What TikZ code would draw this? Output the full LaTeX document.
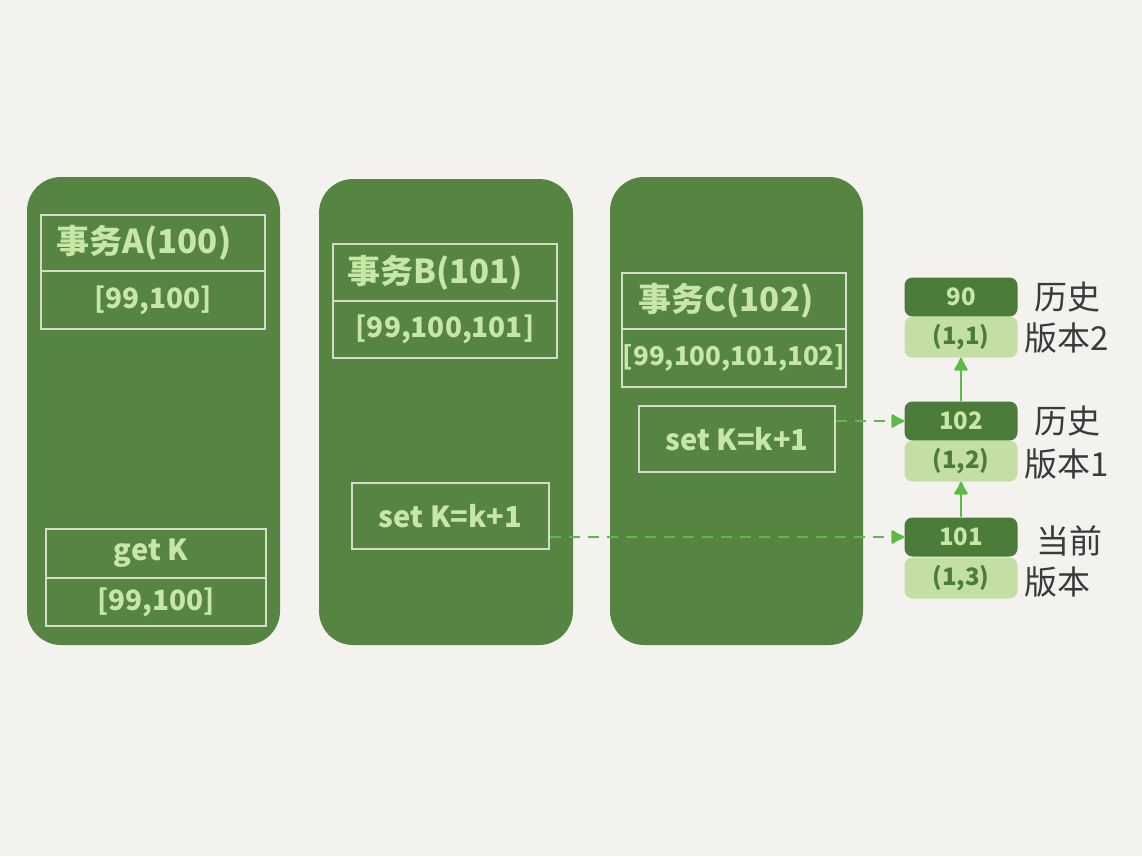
\documentclass[tikz,border=0pt]{standalone}
\usepackage{fontspec}
\newfontfamily\cjk{Noto Sans CJK SC}
\setmainfont{Noto Sans CJK SC}
\usetikzlibrary{arrows.meta}
\definecolor{bg}{HTML}{F3F2EF}
\definecolor{col}{HTML}{558541}
\definecolor{txt}{HTML}{C8E6A6}
\definecolor{edge}{HTML}{D3DCCB}
\definecolor{dk}{HTML}{4B7C39}
\definecolor{lt}{HTML}{C3DFA3}
\definecolor{arr}{HTML}{5CBB47}
\definecolor{lab}{HTML}{3A3A3A}
\tikzset{
  column/.style={fill=col, rounded corners=34pt, draw=none, inner sep=0pt},
  cell/.style={draw=edge, line width=2.5pt, fill=col, text=txt, inner sep=0pt, font=\cjk\bfseries\fontsize{33}{36}\selectfont},
  viewcell/.style={cell, font=\cjk\bfseries\fontsize{28}{32}\selectfont},
  opcell/.style={cell, font=\cjk\bfseries\fontsize{29}{32}\selectfont},
  darkv/.style={fill=dk, rounded corners=8pt, text=txt, inner sep=0pt, minimum width=113pt, minimum height=39pt, font=\cjk\bfseries\fontsize{24}{26}\selectfont},
  lightv/.style={fill=lt, rounded corners=8pt, text=dk, inner sep=0pt, minimum width=113pt, minimum height=41pt, font=\cjk\bfseries\fontsize{24}{26}\selectfont},
  vlabel/.style={text=lab, font=\cjk\fontsize{33}{35}\selectfont, inner sep=0pt},
  link/.style={draw=arr, line width=2.2pt, -{Latex[round,length=15pt,width=16pt]}},
  dlink/.style={draw=arr, line width=2.2pt, dash pattern=on 11pt off 8pt, -{Latex[round,length=15pt,width=16pt]}}
}
\begin{document}
\begin{tikzpicture}[x=1pt,y=-1pt]
\useasboundingbox[fill=bg] (0,0) rectangle (1142,856);
% columns
\node[column, minimum width=253pt, minimum height=468pt] (colA) at (153.5,411) {};
\node[column, minimum width=254pt, minimum height=466pt] (colB) at (446,412) {};
\node[column, minimum width=253pt, minimum height=468pt] (colC) at (736.5,411) {};
% A
\node[cell, minimum width=224pt, minimum height=56pt] (ahead) at (153,243) {事务A(100)\kern18pt};
\node[viewcell, minimum width=224pt, minimum height=58pt] (aview) at (153,300) {[99,100]};
\node[opcell, minimum width=220pt, minimum height=49pt] (aget) at (156,553.5) {get K\kern10pt};
\node[viewcell, minimum width=220pt, minimum height=48pt] (aview2) at (156,602) {[99,100]};
% B
\node[cell, minimum width=224pt, minimum height=57pt] (bhead) at (445,272.5) {事务B(101)\kern20pt};
\node[viewcell, minimum width=224pt, minimum height=57pt] (bview) at (445,329.5) {[99,100,101]};
\node[opcell, minimum width=197pt, minimum height=66pt] (bset) at (450.5,516) {set K=k+1};
% C
\node[cell, minimum width=224pt, minimum height=56pt] (chead) at (734,301) {事务C(102)\kern16pt};
\node[viewcell, minimum width=224pt, minimum height=58pt, font=\cjk\bfseries\fontsize{26}{30}\selectfont] (cview) at (734,358) {[99,100,101,102]};
\node[opcell, minimum width=196pt, minimum height=66pt] (cset) at (737,439) {set K=k+1};
% version chain
\node[darkv] (d90) at (961,297) {90};
\node[lightv] (l11) at (961,337) {(1,1)};
\node[darkv] (d102) at (961,421) {102};
\node[lightv] (l12) at (961,461) {(1,2)};
\node[darkv] (d101) at (961,537) {101};
\node[lightv] (l13) at (961,578) {(1,3)};
% labels
\node[vlabel, anchor=west] (h2a) at (1034,297) {历史};
\node[vlabel, anchor=west] (h2b) at (1024,338) {版本2};
\node[vlabel, anchor=west] (h1a) at (1034,421) {历史};
\node[vlabel, anchor=west] (h1b) at (1024,464) {版本1};
\node[vlabel, anchor=west] (cura) at (1036,541) {当前};
\node[vlabel, anchor=west] (curb) at (1024,582) {版本};
% connectors
\draw[link] (d102.north) -- (l11.south);
\draw[link] (d101.north) -- (l12.south);
\draw[dlink] (cset.east |- d102) -- (d102.west);
\draw[dlink] (bset.east |- d101) -- (d101.west);
\end{tikzpicture}
\end{document}
